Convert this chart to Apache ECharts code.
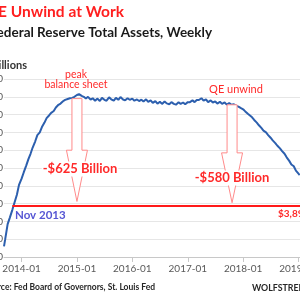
<!DOCTYPE html>
<html><head><meta charset="utf-8">
<script src="https://cdn.jsdelivr.net/npm/echarts@6/dist/echarts.min.js"></script>
<style>html,body{margin:0;padding:0;background:#fff}#c{width:300px;height:300px}</style>
</head><body><div id="c"></div>
<script>
const dates = [
'2013-09-07','2013-09-15','2013-10-01','2013-10-15','2013-11-01','2013-11-15','2013-12-01','2013-12-15',
'2014-01-01','2014-01-15','2014-02-01','2014-02-15','2014-03-01','2014-03-15','2014-04-01','2014-04-15',
'2014-05-01','2014-05-15','2014-06-01','2014-06-15','2014-07-01','2014-07-15','2014-08-01','2014-08-15',
'2014-09-01','2014-09-15','2014-10-01','2014-10-15','2014-11-01','2014-11-15','2014-12-01','2014-12-15',
'2015-01-01','2015-01-15','2015-02-01','2015-02-15','2015-03-01','2015-03-15','2015-04-01','2015-04-15',
'2015-05-01','2015-05-15','2015-06-01','2015-06-15','2015-07-01','2015-07-15','2015-08-01','2015-08-15',
'2015-09-01','2015-09-15','2015-10-01','2015-10-15','2015-11-01','2015-11-15','2015-12-01','2015-12-15',
'2016-01-01','2016-01-15','2016-02-01','2016-02-15','2016-03-01','2016-03-15','2016-04-01','2016-04-15',
'2016-05-01','2016-05-15','2016-06-01','2016-06-15','2016-07-01','2016-07-15','2016-08-01','2016-08-15',
'2016-09-01','2016-09-15','2016-10-01','2016-10-15','2016-11-01','2016-11-15','2016-12-01','2016-12-15',
'2017-01-01','2017-01-15','2017-02-01','2017-02-15','2017-03-01','2017-03-15','2017-04-01','2017-04-15',
'2017-05-01','2017-05-15','2017-06-01','2017-06-15','2017-07-01','2017-07-15','2017-08-01','2017-08-15',
'2017-09-01','2017-09-15','2017-10-01','2017-10-15','2017-11-01','2017-11-15','2017-12-01','2017-12-15',
'2018-01-01','2018-01-15','2018-02-01','2018-02-15','2018-03-01','2018-03-15','2018-04-01','2018-04-15',
'2018-05-01','2018-05-15','2018-06-01','2018-06-15','2018-07-01','2018-07-15','2018-08-01','2018-08-15',
'2018-09-01','2018-09-15','2018-10-01','2018-10-15','2018-11-01','2018-11-15','2018-12-01','2018-12-15',
'2019-01-01','2019-01-09'];
const totalAssets = [
3660,3700,3785,3820,3865,3905,3950,4005,
4040,4075,4115,4150,4180,4215,4250,4285,
4300,4330,4355,4380,4395,4410,4420,4440,
4455,4462,4475,4483,4488,4492,4494,4500,
4510,4515,4505,4500,4490,4500,4484,4492,
4478,4490,4476,4494,4483,4478,4497,4486,
4478,4494,4483,4499,4485,4480,4492,4483,
4490,4478,4485,4476,4484,4474,4486,4472,
4480,4466,4476,4461,4472,4460,4474,4463,
4458,4470,4460,4456,4469,4460,4468,4458,
4470,4470,4480,4470,4482,4482,4492,4478,
4486,4470,4480,4468,4474,4462,4472,4460,
4468,4456,4465,4455,4458,4450,4445,4438,
4430,4418,4405,4395,4385,4370,4355,4340,
4325,4310,4300,4285,4270,4255,4240,4225,
4210,4195,4180,4160,4140,4120,4110,4085,
4068,4060];
const xTickLabels = ['2014-01-01','2015-01-01','2016-01-01','2017-01-01','2018-01-01','2019-01-01'];
const xRange = ['2013-09-07','2019-01-11'];
const yMin = 3600, yMax = 4600, yStep = 100;
const novLevel = 3890;
const novStart = '2013-11-01';
const arrows = [
  {date:'2015-01-01', top:4490, shaftEnd:4200, tip:3912},
  {date:'2017-10-20', top:4455, shaftEnd:4185, tip:3905}
];

const ts = d => Date.UTC(+d.slice(0,4), +d.slice(5,7)-1, +d.slice(8,10));
const chart = echarts.init(document.getElementById('c'));
const tickVals = xTickLabels.map(ts);
const option = {
  animation:false,
  grid:{left:4, right:0, top:79, bottom:43, containLabel:false, outerBoundsMode:'none'},
  xAxis:{type:'value', min:ts(xRange[0]), max:ts(xRange[1]),
    axisLine:{lineStyle:{color:'#c8c8c8'}},
    axisTick:{show:true, customValues:tickVals, length:5, lineStyle:{color:'#c8c8c8'}},
    axisLabel:{customValues:tickVals, color:'#595959', fontSize:10, fontFamily:'Lato', margin:7, hideOverlap:false,
      formatter:function(v){const d=new Date(v);return d.getUTCFullYear()+'-'+String(d.getUTCMonth()+1).padStart(2,'0');}},
    splitLine:{show:false}},
  yAxis:{type:'value', min:yMin, max:yMax, interval:yStep,
    axisLine:{show:false}, axisTick:{show:false},
    axisLabel:{color:'#595959', fontSize:10, fontFamily:'Lato', margin:1,
      formatter:function(v){return v.toLocaleString('en-US');}},
    splitLine:{lineStyle:{color:'#e6e6e6'}}},
  series:[{type:'line', data:dates.map((d,i)=>[ts(d),totalAssets[i]]), symbol:'none',
    lineStyle:{color:'#2c5fae', width:2}, z:3,
    markLine:{silent:true, symbol:'none', label:{show:false},
      lineStyle:{color:'#ff1a1a', width:2, type:'solid'},
      data:[[{coord:[ts(novStart),novLevel]},{coord:[ts(xRange[1]),novLevel]}]]}}]
};
chart.setOption(option);

const red = '#ff2a2a';
const graphics = [];
arrows.forEach(a => {
  const p0 = chart.convertToPixel({gridIndex:0}, [ts(a.date), a.top]);
  const p1 = chart.convertToPixel({gridIndex:0}, [ts(a.date), a.shaftEnd]);
  const p2 = chart.convertToPixel({gridIndex:0}, [ts(a.date), a.tip]);
  const cx = p0[0];
  graphics.push({type:'polygon', z:10, shape:{points:[
    [cx-5,p0[1]],[cx+5,p0[1]],[cx+5,p1[1]],[cx+10.5,p1[1]],[cx,p2[1]],[cx-10.5,p1[1]],[cx-5,p1[1]]]},
    style:{fill:'#fff', stroke:'#ff8a8a', lineWidth:1}});
});
function txt(x,y,text,opt){
  graphics.push({type:'text', z:20, x:x, y:y, style:Object.assign({text:text, fontFamily:'Lato',
    verticalAlign:'middle'}, opt)});
}
txt(124,12,'QE Unwind at Work',{fill:'#ff1f1f', fontSize:15.5, fontWeight:'bold', align:'right'});
txt(212,33,'Federal Reserve Total Assets, Weekly',{fill:'#1a1a1a', fontSize:13.5, fontWeight:'bold', align:'right'});
txt(27,65,'Billions',{fill:'#333', fontSize:11, fontWeight:'bold', align:'right'});
txt(76,75,'peak',{fill:red, fontSize:10.5, align:'center'});
txt(76,85,'balance sheet',{fill:red, fontSize:10.5, align:'center'});
txt(236,89,'QE unwind',{fill:red, fontSize:11, align:'center'});
txt(80,169,'-$625 Billion',{fill:red, fontSize:13, fontWeight:'bold', align:'center', backgroundColor:'#fff', padding:[1,1]});
txt(232,178,'-$580 Billion',{fill:red, fontSize:13, fontWeight:'bold', align:'center', backgroundColor:'#fff', padding:[1,1]});
txt(15,215,'Nov 2013',{fill:'#5656d4', fontSize:11.5, fontWeight:'bold', align:'left'});
txt(278,214,'$3,890 Billion',{fill:red, fontSize:10, fontWeight:'bold', align:'left'});
txt(155,287,'Source: Fed Board of Governors, St. Louis Fed',{fill:'#262626', fontSize:8.5, fontWeight:'bold', align:'right'});
txt(252,288,'WOLFSTREET.com',{fill:'#262626', fontSize:8.8, fontWeight:'bold', align:'left'});
chart.setOption({graphic:graphics});
</script></body></html>
